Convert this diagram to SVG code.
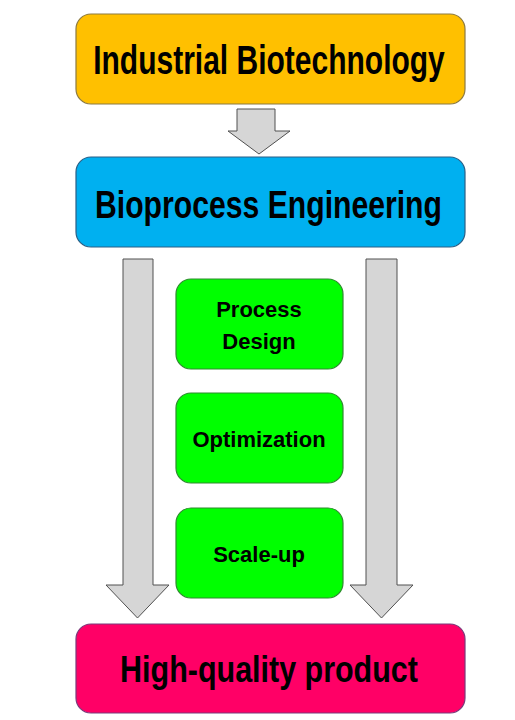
<svg xmlns="http://www.w3.org/2000/svg" width="515" height="720" viewBox="0 0 515 720">
  <style>
    .lbl { font-family: "Liberation Sans", Arial, sans-serif; font-weight: bold; fill: #000; text-anchor: middle; }
    .small { font-size: 22px; }
    .arrow { fill: #D6D6D6; stroke: #505050; stroke-width: 1; }
    .green { fill: #00FF00; stroke: #2E8B2E; stroke-width: 1.2; }
  </style>
  <rect width="515" height="720" fill="#FFFFFF"/>
  <g id="connectors">
    <polygon id="arrow-top" class="arrow" points="237,109 275,109 275,131 290,131 259,154 228,131 237,131"/>
    <polygon id="arrow-left" class="arrow" points="123,259 153,259 153,585 169,585 137.5,618 106,585 123,585"/>
    <polygon id="arrow-right" class="arrow" points="366,259 397,259 397,585 413,585 381.5,618 350,585 366,585"/>
  </g>
  <g id="industrial-biotechnology">
    <rect x="76" y="14" width="389" height="90" rx="15" fill="#FFC000" stroke="#8C7A40" stroke-width="1.2"/>
    <text class="lbl" transform="translate(269,74) scale(0.75,1)" x="0" y="0" font-size="40">Industrial Biotechnology</text>
  </g>
  <g id="bioprocess-engineering">
    <rect x="76" y="157" width="389" height="90" rx="15" fill="#00B0F0" stroke="#2A5F86" stroke-width="1.2"/>
    <text class="lbl" transform="translate(268.5,218) scale(0.7735,1)" x="0" y="0" font-size="39">Bioprocess Engineering</text>
  </g>
  <g id="process-design">
    <rect class="green" x="176" y="279" width="167" height="90" rx="15"/>
    <text class="lbl small" x="259" y="317">Process</text>
    <text class="lbl small" x="259" y="349">Design</text>
  </g>
  <g id="optimization">
    <rect class="green" x="176" y="393" width="167" height="90" rx="15"/>
    <text class="lbl small" x="259" y="447">Optimization</text>
  </g>
  <g id="scale-up">
    <rect class="green" x="176" y="508" width="167" height="90" rx="15"/>
    <text class="lbl small" x="259" y="562">Scale-up</text>
  </g>
  <g id="high-quality-product">
    <rect x="76" y="624" width="389" height="89" rx="15" fill="#FF0066" stroke="#7A3A7A" stroke-width="1.2"/>
    <text class="lbl" transform="translate(269,682) scale(0.8237,1)" x="0" y="0" font-size="37" fill="#140008">High-quality product</text>
  </g>
</svg>
